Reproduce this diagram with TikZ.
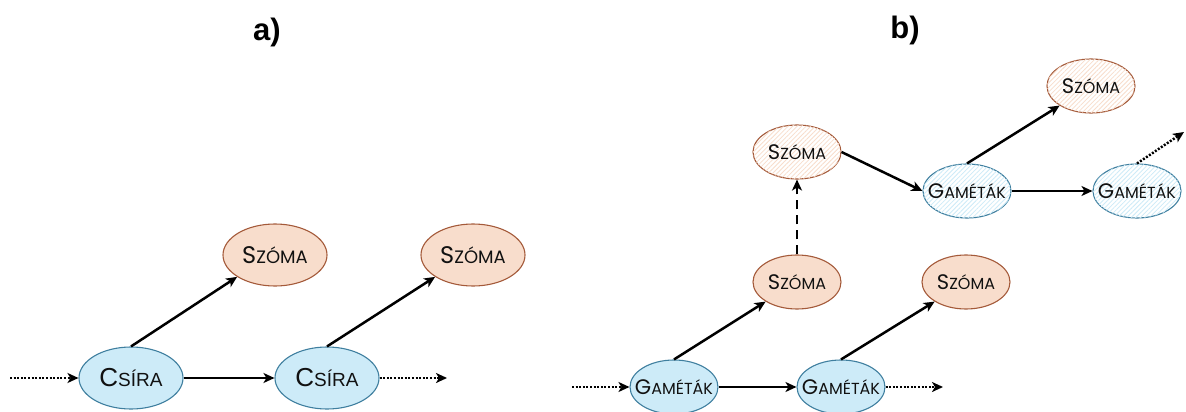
\documentclass[tikz,border=0pt]{standalone}
\usepackage{fontspec}
\setmainfont{Poppins}
\newfontfamily\arialf{Liberation Sans}
\usetikzlibrary{shapes.geometric,arrows.meta,patterns.meta}
\definecolor{bfill}{HTML}{CDEBF8}
\definecolor{bdraw}{HTML}{3F7F9F}
\definecolor{ofill}{HTML}{F8DDCC}
\definecolor{odraw}{HTML}{A45A3A}
\definecolor{txt}{HTML}{111111}
\newcommand\scA[2]{{\fontsize{24}{24}\selectfont #1}{\fontsize{18}{18}\selectfont #2}}
\newcommand\scB[2]{{\fontsize{21}{21}\selectfont #1}{\fontsize{16}{16}\selectfont #2}}
\newcommand\scC[2]{{\arialf\fontsize{26}{26}\selectfont #1}{\arialf\fontsize{19}{19}\selectfont #2}}
\tikzset{
  nd/.style={ellipse,inner sep=0pt,line width=1.1pt,text=txt},
  bigA/.style={nd,minimum width=104pt,minimum height=62pt},
  bigB/.style={nd,minimum width=88pt,minimum height=54pt},
  blue/.style={fill=bfill,draw=bdraw},
  orng/.style={fill=ofill,draw=odraw},
  bluehatch/.style={draw=bdraw,fill=white,postaction={pattern={Lines[angle=45,distance=3.2pt,line width=0.8pt]},pattern color=bfill}},
  orhatch/.style={draw=odraw,fill=white,postaction={pattern={Lines[angle=45,distance=3.2pt,line width=0.8pt]},pattern color=ofill}},
  arr/.style={line width=2.5pt,-{Stealth[length=11pt,width=10pt,inset=3pt]}},
  dotarr/.style={arr,dash pattern=on 2pt off 1.6pt},
  dasharr/.style={arr,dash pattern=on 9pt off 6pt},
  title/.style={font=\arialf\bfseries\fontsize{31}{31}\selectfont}
}
\begin{document}
\begin{tikzpicture}[x=1pt,y=-1pt]
\useasboundingbox (0,0) rectangle (1186,412);
% titles
\node[title] (ta) at (267,32) {a)};
\node[title] (tb) at (905,30) {b)};
% panel a
\node[bigA,blue] (c1) at (131,378) {\makebox[0pt]{\scC{C}{SÍRA}}};
\node[bigA,blue] (c2) at (327,378) {\makebox[0pt]{\scC{C}{SÍRA}}};
\node[bigA,orng] (s1) at (275,255) {\makebox[0pt]{\scA{S}{ZÓMA}}};
\node[bigA,orng] (s2) at (473,255) {\makebox[0pt]{\scA{S}{ZÓMA}}};
\coordinate (ain) at (10,378);
\coordinate (aout) at (447,378);
\draw[dotarr] (ain) -- (c1.west);
\draw[dotarr] (c2.east) -- (aout);
\draw[arr] (c1.east) -- (c2.west);
\draw[arr] (c1.north) -- (s1.210);
\draw[arr] (c2.north) -- (s2.210);
% panel b
\node[bigB,blue] (g1) at (674,387) {\makebox[0pt]{\scB{G}{AMÉTÁK}}};
\node[bigB,blue] (g2) at (841,387) {\makebox[0pt]{\scB{G}{AMÉTÁK}}};
\node[bigB,orng] (sl1) at (797,282) {\makebox[0pt]{\scB{S}{ZÓMA}}};
\node[bigB,orng] (sl2) at (966,282) {\makebox[0pt]{\scB{S}{ZÓMA}}};
\node[bigB,orhatch] (sm) at (797,152) {\makebox[0pt]{\scB{S}{ZÓMA}}};
\node[bigB,bluehatch] (gm1) at (967,191) {\makebox[0pt]{\scB{G}{AMÉTÁK}}};
\node[bigB,bluehatch] (gm2) at (1137,191) {\makebox[0pt]{\scB{G}{AMÉTÁK}}};
\node[bigB,orhatch] (st) at (1091,86) {\makebox[0pt]{\scB{S}{ZÓMA}}};
\coordinate (bin) at (572,387);
\coordinate (bout) at (943,387);
\coordinate (bup) at (1184,132);
\draw[dotarr] (bin) -- (g1.west);
\draw[dotarr] (g2.east) -- (bout);
\draw[arr] (g1.east) -- (g2.west);
\draw[arr] (g1.north) -- (sl1.212);
\draw[arr] (g2.north) -- (sl2.212);
\draw[dasharr] (sl1.north) -- (sm.south);
\draw[arr] (sm.east) -- (gm1.west);
\draw[arr] (gm1.north) -- (st.212);
\draw[arr] (gm1.east) -- (gm2.west);
\draw[dotarr] (gm2.north) -- (bup);
\end{tikzpicture}
\end{document}
